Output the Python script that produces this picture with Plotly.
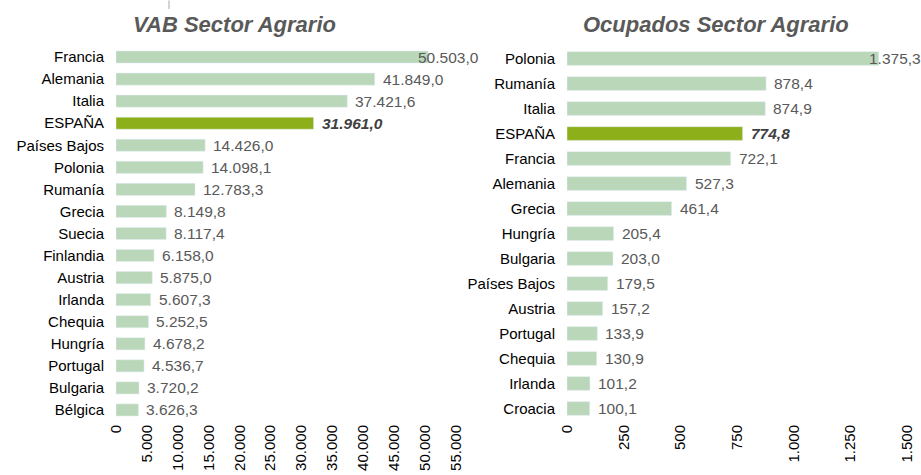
import plotly.graph_objects as go

vab_countries = ["Francia", "Alemania", "Italia", "ESPAÑA", "Países Bajos", "Polonia", "Rumanía",
                 "Grecia", "Suecia", "Finlandia", "Austria", "Irlanda", "Chequia", "Hungría",
                 "Portugal", "Bulgaria", "Bélgica"]
vab_values = [50503.0, 41849.0, 37421.6, 31961.0, 14426.0, 14098.1, 12783.3, 8149.8, 8117.4,
              6158.0, 5875.0, 5607.3, 5252.5, 4678.2, 4536.7, 3720.2, 3626.3]

ocu_countries = ["Polonia", "Rumanía", "Italia", "ESPAÑA", "Francia", "Alemania", "Grecia",
                 "Hungría", "Bulgaria", "Países Bajos", "Austria", "Portugal", "Chequia",
                 "Irlanda", "Croacia"]
ocu_values = [1375.3, 878.4, 874.9, 774.8, 722.1, 527.3, 461.4, 205.4, 203.0, 179.5, 157.2,
              133.9, 130.9, 101.2, 100.1]

vab_ticks = list(range(0, 55001, 5000))
ocu_ticks = list(range(0, 1501, 250))

LIGHT = "#bad8b9"
HIGHLIGHT = "#8db01a"


def fmt(v, dec=1):
    s = f"{v:,.{dec}f}"
    return s.replace(",", "X").replace(".", ",").replace("X", ".")


fig = go.Figure()

for countries, values, xa, ya in [(vab_countries, vab_values, "x", "y"),
                                  (ocu_countries, ocu_values, "x2", "y2")]:
    colors = [HIGHLIGHT if c == "ESPAÑA" else LIGHT for c in countries]
    fig.add_trace(go.Bar(x=values, y=countries, orientation="h", marker_color=colors,
                         width=0.55, xaxis=xa, yaxis=ya, hoverinfo="x+y", showlegend=False))

annotations = []
for countries, values, xr, yr, maxv in [(vab_countries, vab_values, "x", "y", 55000),
                                        (ocu_countries, ocu_values, "x2", "y2", 1500)]:
    for c, v in zip(countries, values):
        spain = c == "ESPAÑA"
        txt = fmt(v)
        if spain:
            txt = f"<b><i>{txt}</i></b>"
        shift = 6
        if v > 0.9 * maxv:
            shift = -12
        annotations.append(dict(
            x=v, y=c, xref=xr, yref=yr, text=txt, showarrow=False,
            xanchor="left", yanchor="middle", xshift=shift,
            font=dict(family="Liberation Sans, Arial", size=15.5,
                      color="#404040" if spain else "#595959")))

annotations.append(dict(x=234 / 921, y=1 - 25 / 475, xref="paper", yref="paper",
                        text="<b><i>VAB Sector Agrario</i></b>", showarrow=False,
                        xanchor="center", yanchor="middle",
                        font=dict(family="Liberation Sans, Arial", size=22, color="#595959")))
annotations.append(dict(x=716 / 921, y=1 - 25 / 475, xref="paper", yref="paper",
                        text="<b><i>Ocupados Sector Agrario</i></b>", showarrow=False,
                        xanchor="center", yanchor="middle",
                        font=dict(family="Liberation Sans, Arial", size=22, color="#595959")))

tickfont = dict(family="Liberation Sans, Arial", size=15, color="#000000")
catfont = dict(family="Liberation Sans, Arial", size=15, color="#000000")

ydom = [(475 - 421) / 475, (475 - 46) / 475]

common_x = dict(tickformat=",d", tickangle=-90, showgrid=False, zeroline=False, showline=False,
                ticks="", tickfont=tickfont, fixedrange=True, automargin=False)
common_y = dict(showgrid=False, zeroline=False, showline=False, ticks="outside", ticklen=8,
                tickcolor="rgba(0,0,0,0)", tickfont=catfont, fixedrange=True, automargin=False)

fig.update_layout(
    width=921, height=475,
    margin=dict(l=0, r=0, t=0, b=0, autoexpand=False),
    paper_bgcolor="white", plot_bgcolor="white",
    separators=",.",
    annotations=annotations,
    xaxis=dict(domain=[116 / 921, 456 / 921], range=[0, 55000], tickvals=vab_ticks, **common_x),
    yaxis=dict(domain=ydom, categoryorder="array", categoryarray=vab_countries[::-1], **common_y),
    xaxis2=dict(domain=[567 / 921, 907 / 921], range=[0, 1500], tickvals=ocu_ticks,
                anchor="y2", **common_x),
    yaxis2=dict(domain=ydom, categoryorder="array", categoryarray=ocu_countries[::-1],
                anchor="x2", **common_y),
    shapes=[dict(type="line", xref="paper", yref="paper", x0=169 / 921, x1=169 / 921,
                 y0=0.999, y1=1 - 9 / 475, line=dict(color="#a6a6a6", width=1))],
)

fig.write_html("out.html", config={"displayModeBar": False},
               post_script="document.body.style.margin='0';")
